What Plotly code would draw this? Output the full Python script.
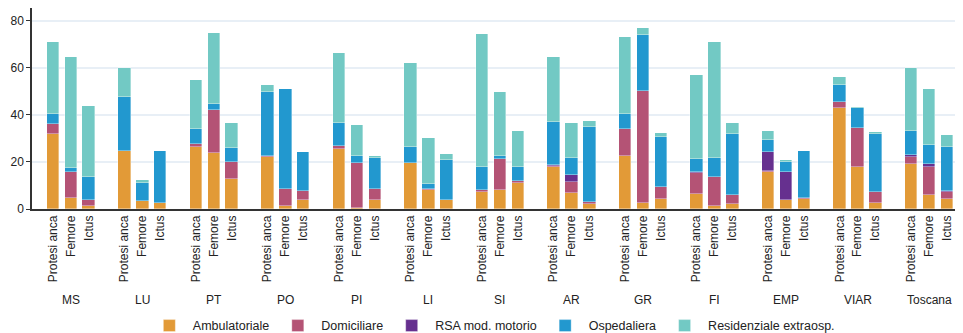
import plotly.graph_objects as go

# zones and bar categories
zones = ["MS", "LU", "PT", "PO", "PI", "LI", "SI", "AR", "GR", "FI", "EMP", "VIAR", "Toscana"]
bars = ["Protesi anca", "Femore", "Ictus"]

series_names = ["Ambulatoriale", "Domiciliare", "RSA mod. motorio", "Ospedaliera", "Residenziale extraosp."]
colors = ["#E29A37", "#B45375", "#66308F", "#2298CF", "#72C9C4"]

# one value per (zone, bar) in the order above
ambulatoriale = [32.0, 4.5, 1.4, 24.6, 3.4, 2.5, 26.3, 23.9, 12.7, 22.2, 1.4, 3.7, 25.6, 0.6, 3.7,
                 19.4, 8.2, 4.0, 7.4, 8.2, 11.2, 17.7, 6.9, 2.1, 22.7, 2.7, 4.4, 6.5, 1.4, 2.3,
                 15.9, 4.0, 4.2, 42.8, 17.7, 2.7, 19.3, 5.9, 4.2]
domiciliare = [4.1, 11.1, 2.6, 0, 0, 0, 1.5, 18.0, 7.1, 0.3, 7.1, 3.9, 1.3, 19.1, 4.8,
               0.2, 0.4, 0, 0.7, 13.0, 0.7, 0.6, 4.7, 1.0, 11.4, 47.6, 4.9, 8.8, 12.2, 3.5,
               0.4, 0, 0.3, 2.8, 16.8, 4.7, 2.9, 12.1, 3.2]
rsa = [0, 0, 0, 0, 0, 0, 0, 0, 0, 0, 0, 0, 0, 0, 0,
       0, 0, 0, 0, 0, 0, 0.2, 2.8, 0, 0, 0, 0, 0.6, 0, 0,
       8.1, 11.9, 0.2, 0, 0, 0, 0.7, 1.0, 0.2]
ospedaliera = [4.3, 1.7, 9.6, 23.0, 7.5, 22.1, 6.0, 2.7, 6.3, 27.3, 42.3, 16.6, 9.6, 2.7, 13.0,
               6.7, 2.2, 16.8, 9.9, 1.5, 6.1, 18.3, 7.4, 31.7, 6.4, 23.5, 21.4, 5.2, 7.9, 26.2,
               4.9, 3.9, 20.1, 7.2, 8.3, 24.6, 10.2, 8.2, 18.6]
residenziale = [30.4, 47.3, 30.0, 12.2, 1.6, 0, 21.0, 30.0, 10.3, 2.9, 0.2, 0, 29.9, 13.4, 0.9,
                35.6, 19.5, 2.4, 56.5, 26.9, 15.1, 27.8, 14.6, 2.4, 32.7, 2.9, 1.6, 35.8, 49.4, 4.4,
                3.8, 1.0, 0, 3.1, 0.7, 0.8, 26.9, 23.6, 5.2]

values = [ambulatoriale, domiciliare, rsa, ospedaliera, residenziale]

# position of each bar: one empty slot between zones
xpos = [g * (len(bars) + 1) + j for g in range(len(zones)) for j in range(len(bars))]
xlabels = [b for _ in zones for b in bars]

FONT = "Liberation Sans, Arial, sans-serif"

fig = go.Figure()
for name, col, vals in zip(series_names, colors, values):
    fig.add_trace(go.Bar(
        x=xpos, y=vals, name=name,
        marker=dict(color=col, line=dict(color="rgba(255,255,255,0.6)", width=0.6)),
        width=0.7,
    ))

# zone labels under the rotated bar labels
for g, z in enumerate(zones):
    fig.add_annotation(
        x=g * (len(bars) + 1) + (len(bars) - 1) / 2, y=-0.453,
        xref="x", yref="paper", yanchor="middle", text=z, showarrow=False,
        font=dict(family=FONT, size=12, color="#222"),
    )

# page body has an 8px margin, so the figure is a bit smaller than the window
fig.update_layout(
    barmode="stack",
    width=955, height=325,
    margin=dict(l=24, r=0, t=0, b=124, autoexpand=False),
    plot_bgcolor="white", paper_bgcolor="white",
    bargap=0,
    legend=dict(
        orientation="h", x=0.495, xanchor="center", y=-0.582, yanchor="middle",
        font=dict(family=FONT, size=12.5, color="#222"),
        traceorder="normal", itemwidth=37,
    ),
)
fig.update_xaxes(
    tickvals=xpos, ticktext=xlabels, tickangle=-90,
    range=[-1.17, 50.9],
    showline=True, linecolor="#333", linewidth=1.5,
    showgrid=False, zeroline=False, ticks="",
    tickfont=dict(family=FONT, size=12, color="#222"),
)
fig.update_yaxes(
    range=[0, 85.4], tickvals=[0, 20, 40, 60, 80],
    showline=True, linecolor="#333", linewidth=1.5,
    showgrid=True, gridcolor="#E8EFF6", gridwidth=1.5,
    zeroline=False, ticks="outside", ticklen=4, tickcolor="#333",
    tickfont=dict(family=FONT, size=12, color="#222"),
)

fig.write_html("out.html")
